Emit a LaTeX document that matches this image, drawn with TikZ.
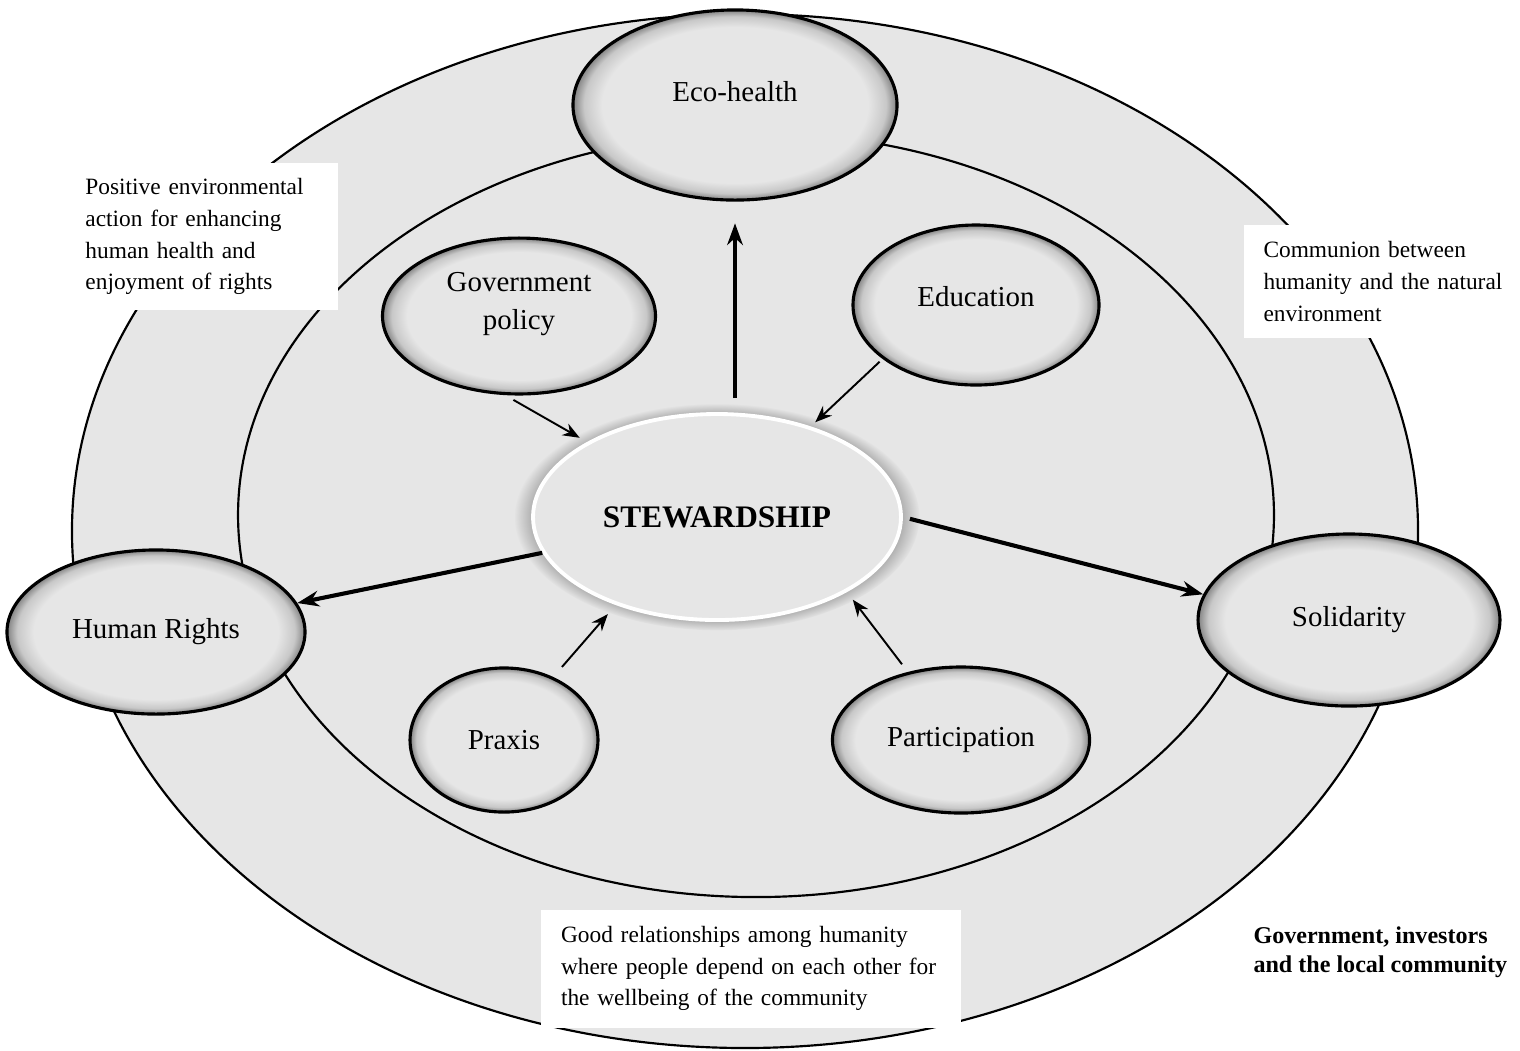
\documentclass[tikz,border=0pt]{standalone}
\usepackage{fontspec}
\setmainfont{Liberation Serif}
\usetikzlibrary{shapes,arrows.meta,shadows,fadings}
\definecolor{bg_gray}{RGB}{230,230,230}
\definecolor{rim_gray}{RGB}{200,200,200}
\definecolor{edge_gray}{RGB}{130,130,130}
\pgfdeclareradialshading{nd_shade}{\pgfpoint{0bp}{0bp}}{color(0bp)=(bg_gray);color(20.5bp)=(bg_gray);color(23.3bp)=(rim_gray);color(25bp)=(edge_gray);color(50bp)=(edge_gray)}
\tikzstyle{zone}=[ellipse,fill=bg_gray,draw=black,line width=0.9pt,inner sep=0pt]
\tikzstyle{nd}=[ellipse,shade,shading=nd_shade,draw=black,line width=1.3pt,inner sep=2pt,
  font=\fontsize{12}{15.8}\selectfont,align=center]
\tikzstyle{core}=[ellipse,fill=bg_gray,draw=white,line width=1.6pt,
  circular glow={shadow scale=1.1,fill=black!45},font=\bfseries\fontsize{13}{15}\selectfont]
\tikzstyle{note}=[fill=white,align=left,anchor=north west,font=\fontsize{9.7}{13.2}\selectfont]
\tikzstyle{thickarr}=[-{Stealth[length=9pt,width=6.5pt]},line width=1.7pt]
\tikzstyle{thinarr}=[-{Stealth[length=7pt,width=5.5pt]},line width=0.8pt]

\begin{document}
\begin{tikzpicture}[x=0.415pt,y=-0.415pt]
    \useasboundingbox (0,0) rectangle (1520,1050);
    \node [style=zone,minimum width=558.6pt,minimum height=429.1pt] (outer) at (745,531) {};
    \node [style=zone,minimum width=429.9pt,minimum height=317.1pt] (inner) at (756,515) {};
    \node [style=note,text width=101.7pt,inner xsep=2.9pt,minimum height=60.6pt] (action) at (78,163)
      {Positive environmental\\action for enhancing\\human health and\\enjoyment of rights};
    \node [style=note,text width=106pt,inner xsep=8.3pt,minimum height=46.5pt] (communion) at (1243,225)
      {Communion between\\humanity and the natural\\environment};
    \node [style=note,text width=158pt,inner xsep=8.1pt,minimum height=49pt] (relations) at (541,909)
      {Good relationships among humanity\\where people depend on each other for\\the wellbeing of the community};
    \node [anchor=north west,inner sep=0pt,align=left,font=\bfseries\fontsize{10}{12.2}\selectfont] (actors) at (1253,926)
      {Government, investors\\and the local community};
    \node [style=nd,minimum width=134.5pt,minimum height=78.9pt,text depth=11.6pt] (eco) at (735,105) {Eco-health};
    \node [style=nd,minimum width=113.3pt,minimum height=64.7pt,text depth=12.6pt] (gov) at (519,316) {Government\\policy};
    \node [style=nd,minimum width=102.1pt,minimum height=66.4pt,text depth=7.5pt] (edu) at (976,305) {Education};
    \node [style=core,minimum width=152.7pt,minimum height=85.5pt] (stew) at (717,517) {STEWARDSHIP};
    \node [style=nd,minimum width=123.7pt,minimum height=68.1pt] (hr) at (156,632) {Human Rights};
    \node [style=nd,minimum width=125.3pt,minimum height=71.4pt] (sol) at (1349,620) {Solidarity};
    \node [style=nd,minimum width=78pt,minimum height=59.8pt] (praxis) at (504,740) {Praxis};
    \node [style=nd,minimum width=106.7pt,minimum height=60.6pt] (part) at (961,740) {Participation};
    \draw [thickarr,shorten <=5.8pt,shorten >=9pt] (stew.north -| eco.south) to (eco.south);
    \draw [thickarr] (stew) to (hr);
    \draw [thickarr,shorten <=3pt] (stew.east) to (sol.170);
    \draw [thinarr,shorten <=4pt,shorten >=3.5pt] (gov.-100) to (stew.150);
    \draw [thinarr,shorten <=1.7pt,shorten >=2.5pt] (edu.210) to (stew.44);
    \draw [thinarr,shorten <=5.5pt,shorten >=5pt] (praxis.52) to (stew.221);
    \draw [thinarr,shorten <=4pt,shorten >=4pt] (part.128) to (stew.-30);
  \end{tikzpicture}
\end{document}
